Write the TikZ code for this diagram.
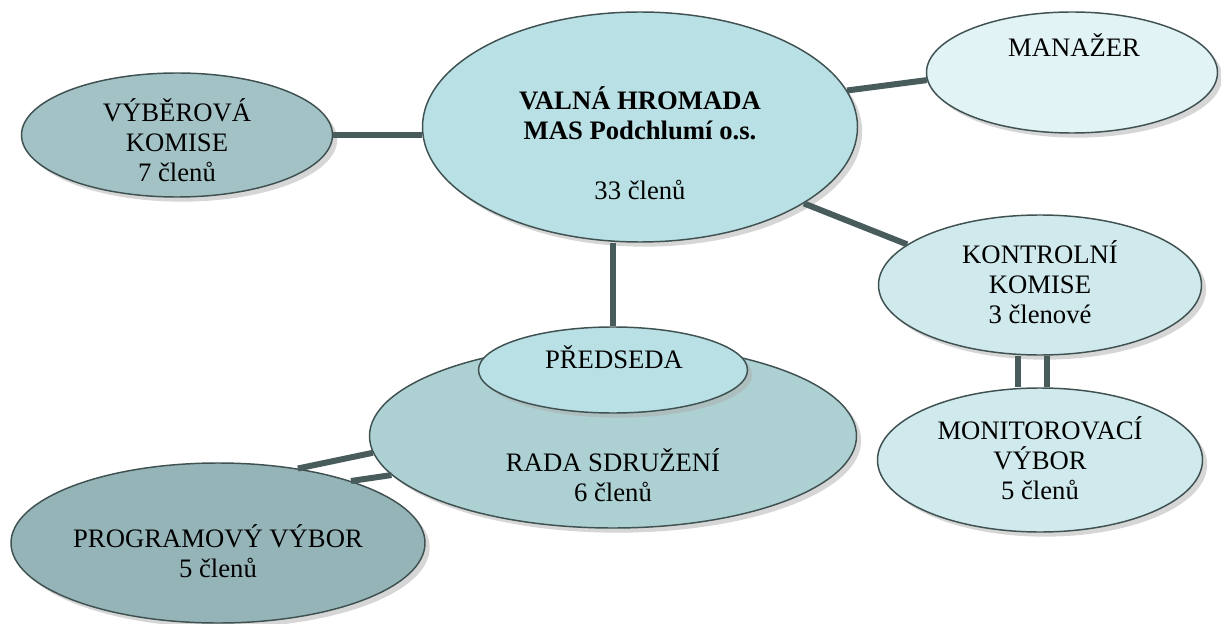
\documentclass[tikz,border=0pt]{standalone}
\usepackage{fontspec}
\setmainfont{Liberation Serif}
\usetikzlibrary{shapes.geometric,shadows}
\definecolor{linkgray}{HTML}{485C5C}
\definecolor{rimgray}{HTML}{3F5151}
\definecolor{teal1}{HTML}{B9E0E4}
\definecolor{teal2}{HTML}{ADD0D3}
\definecolor{teal3}{HTML}{A3C2C5}
\definecolor{teal4}{HTML}{95B4B8}
\definecolor{teal5}{HTML}{CFE9EC}
\definecolor{teal6}{HTML}{E2F3F5}

\tikzset{
  bubble/.style={ellipse, draw=rimgray, line width=1.1pt, inner sep=0pt,
    drop shadow={shadow xshift=3.5pt, shadow yshift=-3.5pt, fill=black!32}},
  lbl/.style={align=center, inner sep=0pt, font=\fontsize{20}{22.5}\selectfont},
  link/.style={line width=4.5pt, linkgray}
}

\begin{document}
\begin{tikzpicture}[x=0.75pt, y=-0.75pt]
    \useasboundingbox (0,0) rectangle (1221,624);

    % Draw the lower bubbles first
    \node[bubble, fill=teal4, minimum width=310.5pt, minimum height=120pt] (program) at (218,543) {};
    \node[bubble, fill=teal2, minimum width=365.25pt, minimum height=138pt] (rada) at (613,436) {};
    \node[bubble, fill=teal1, minimum width=201.75pt, minimum height=64.5pt] (predseda) at (613,370) {};

    % Draw the general assembly and the bubbles around it
    \node[bubble, fill=teal1, minimum width=326.25pt, minimum height=172.5pt] (valna) at (640,127) {};
    \node[bubble, fill=teal3, minimum width=233.25pt, minimum height=93pt] (vyber) at (177,135) {};
    \node[bubble, fill=teal6, minimum width=218.25pt, minimum height=90.75pt] (manazer) at (1072,72.5) {};
    \node[bubble, fill=teal5, minimum width=242.25pt, minimum height=105pt] (kontrol) at (1040,285) {};
    \node[bubble, fill=teal5, minimum width=243.75pt, minimum height=108pt] (monitor) at (1040,460) {};

    % Write the texts
    \node[lbl] (valna-t) at (640,143) {\textbf{VALNÁ HROMADA}\\\textbf{MAS Podchlumí o.s.}\\[22.5pt]33 členů};
    \node[lbl] (vyber-t) at (177,140) {VÝBĚROVÁ\\KOMISE\\7 členů};
    \node[lbl] (manazer-t) at (1074,45) {MANAŽER};
    \node[lbl] (kontrol-t) at (1040,282) {KONTROLNÍ\\KOMISE\\3 členové};
    \node[lbl] (monitor-t) at (1040,458) {MONITOROVACÍ\\VÝBOR\\5 členů};
    \node[lbl] (predseda-t) at (614,357) {PŘEDSEDA};
    \node[lbl] (rada-t) at (613,475) {RADA SDRUŽENÍ\\6 členů};
    \node[lbl] (program-t) at (218,551) {PROGRAMOVÝ VÝBOR\\5 členů};

    % Draw the links
    \draw[link] (vyber.east) -- (vyber.east -| valna.west);
    \draw[link] (valna.10) -- (manazer.183);
    \draw[link] (valna.-25) -- (kontrol.163);
    \draw[link] (predseda.north) -- (predseda.north |- valna.south);
    \draw[link] ([xshift=-16.5pt]kontrol.south) -- ([xshift=-16.5pt]monitor.north);
    \draw[link] ([xshift=5.25pt]kontrol.south) -- ([xshift=5.25pt]monitor.north);
    \draw[link] (program.43.5) -- (rada.184);
    \draw[link] (program.25.5) -- (rada.190);

\end{tikzpicture}
\end{document}
